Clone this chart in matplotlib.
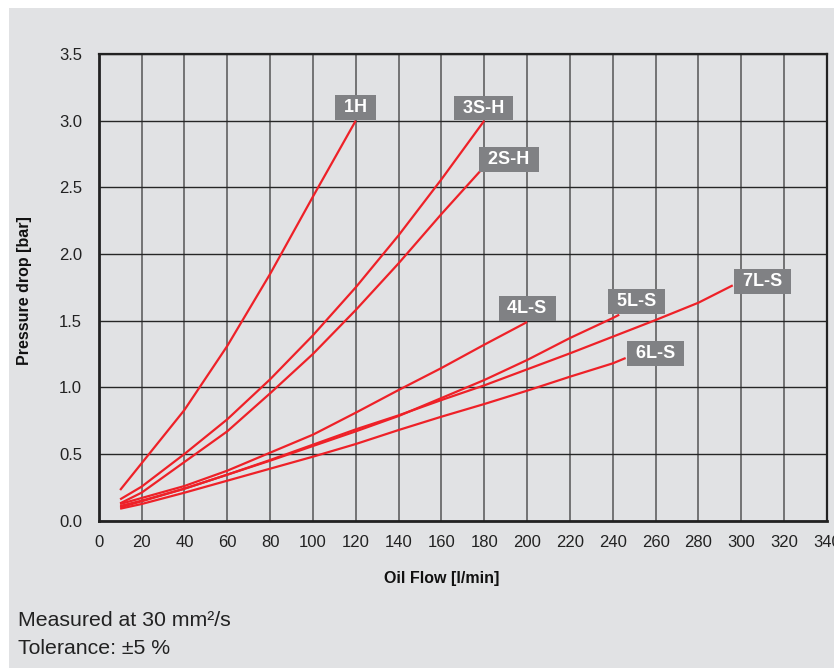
import matplotlib
matplotlib.use("Agg")
import matplotlib.pyplot as plt
from matplotlib.patches import Rectangle

plt.rcParams['font.family'] = ['Liberation Sans', 'DejaVu Sans']

# ---- data ----
series_names = ["1H", "3S-H", "2S-H", "4L-S", "5L-S", "7L-S", "6L-S"]

flow_1h = [10, 20, 40, 60, 80, 100, 120]
dp_1h = [0.23, 0.43, 0.83, 1.31, 1.85, 2.43, 3.0]

flow_3sh = [10, 20, 40, 60, 80, 100, 120, 140, 160, 180]
dp_3sh = [0.16, 0.255, 0.50, 0.76, 1.06, 1.39, 1.75, 2.14, 2.56, 3.0]

flow_2sh = [10, 20, 40, 60, 80, 100, 120, 140, 160, 178]
dp_2sh = [0.13, 0.21, 0.44, 0.67, 0.955, 1.25, 1.58, 1.93, 2.30, 2.62]

flow_4ls = [10, 20, 40, 60, 80, 100, 120, 140, 160, 180, 200]
dp_4ls = [0.125, 0.17, 0.26, 0.375, 0.51, 0.645, 0.81, 0.98, 1.145, 1.32, 1.49]

flow_5ls = [10, 20, 40, 60, 80, 100, 120, 140, 160, 180, 200, 220, 240, 243]
dp_5ls = [0.11, 0.15, 0.24, 0.345, 0.45, 0.56, 0.67, 0.785, 0.92, 1.055, 1.205, 1.37, 1.52, 1.545]

flow_7ls = [10, 20, 40, 60, 80, 100, 120, 140, 160, 180, 200, 220, 240, 260, 280, 296]
dp_7ls = [0.10, 0.145, 0.24, 0.345, 0.455, 0.57, 0.685, 0.79, 0.905, 1.015, 1.135, 1.255, 1.38, 1.505, 1.635, 1.765]

flow_6ls = [10, 20, 40, 60, 80, 100, 120, 140, 160, 180, 200, 220, 240, 246]
dp_6ls = [0.09, 0.125, 0.21, 0.30, 0.39, 0.48, 0.575, 0.68, 0.78, 0.875, 0.975, 1.08, 1.18, 1.22]

label_x = [119.7, 179.8, 191.5, 200.0, 250.9, 310.0, 260.0]
label_y = [3.10, 3.095, 2.71, 1.59, 1.645, 1.795, 1.255]

x_ticks = list(range(0, 341, 20))
y_ticks = [0.0, 0.5, 1.0, 1.5, 2.0, 2.5, 3.0, 3.5]

x_label = "Oil Flow [l/min]"
y_label = "Pressure drop [bar]"
notes = ["Measured at 30 mm²/s", "Tolerance: ±5 %"]

flows = [flow_1h, flow_3sh, flow_2sh, flow_4ls, flow_5ls, flow_7ls, flow_6ls]
drops = [dp_1h, dp_3sh, dp_2sh, dp_4ls, dp_5ls, dp_7ls, dp_6ls]

# ---- style ----
W, H = 834, 668
BG = "#e1e2e4"
RED = "#ee2128"
BOX = "#808184"

fig = plt.figure(figsize=(W / 100, H / 100), dpi=100, facecolor="white")
fig.patches.append(Rectangle((9 / W, 0), 1 - 9 / W, 1 - 8 / H,
                             transform=fig.transFigure, facecolor=BG,
                             edgecolor="none", zorder=-10))

left, right = 98.7 / W, 827 / W
bottom, top = 1 - 520.7 / H, 1 - 54 / H
ax = fig.add_axes([left, bottom, right - left, top - bottom])
ax.set_facecolor(BG)

for fx, dy in zip(flows, drops):
    ax.plot(fx, dy, color=RED, lw=1.6, solid_capstyle="butt",
            solid_joinstyle="round", zorder=3)

for name, lx, ly in zip(series_names, label_x, label_y):
    ax.text(lx, ly, f" {name} ", ha="center", va="center", fontsize=13,
            fontweight="bold", color="white", zorder=5,
            bbox=dict(boxstyle="square,pad=0.22", facecolor=BOX, edgecolor="none"))

ax.set_xlim(0, 340)
ax.set_ylim(0, 3.5)
ax.set_xticks(x_ticks)
ax.set_yticks(y_ticks)
ax.set_yticklabels([f"{v:.1f}" for v in y_ticks])
ax.tick_params(axis="both", length=0, labelsize=12, colors="#222222")
ax.tick_params(axis="x", pad=10)
ax.tick_params(axis="y", pad=12)

ax.grid(axis="x", color="#555555", lw=1.1, zorder=1)
ax.grid(axis="y", color="#262626", lw=1.0, zorder=1)
ax.set_axisbelow(True)

for side in ["left", "bottom"]:
    ax.spines[side].set_linewidth(2.0)
    ax.spines[side].set_color("#222222")
for side in ["top", "right"]:
    ax.spines[side].set_linewidth(1.6)
    ax.spines[side].set_color("#222222")

fig.text(442 / W, 1 - 578 / H, x_label, ha="center", va="center",
         fontsize=11.5, fontweight="bold", color="#111111")
fig.text(25 / W, 1 - 291 / H, y_label, ha="center", va="center", rotation=90,
         fontsize=11.5, fontweight="bold", color="#111111")

fig.text(18 / W, 1 - 621 / H, notes[0], ha="left", va="center",
         fontsize=15.3, color="#222222")
fig.text(18 / W, 1 - 649 / H, notes[1], ha="left", va="center",
         fontsize=15.3, color="#222222")

fig.savefig("out.png", dpi=100, facecolor=fig.get_facecolor())
